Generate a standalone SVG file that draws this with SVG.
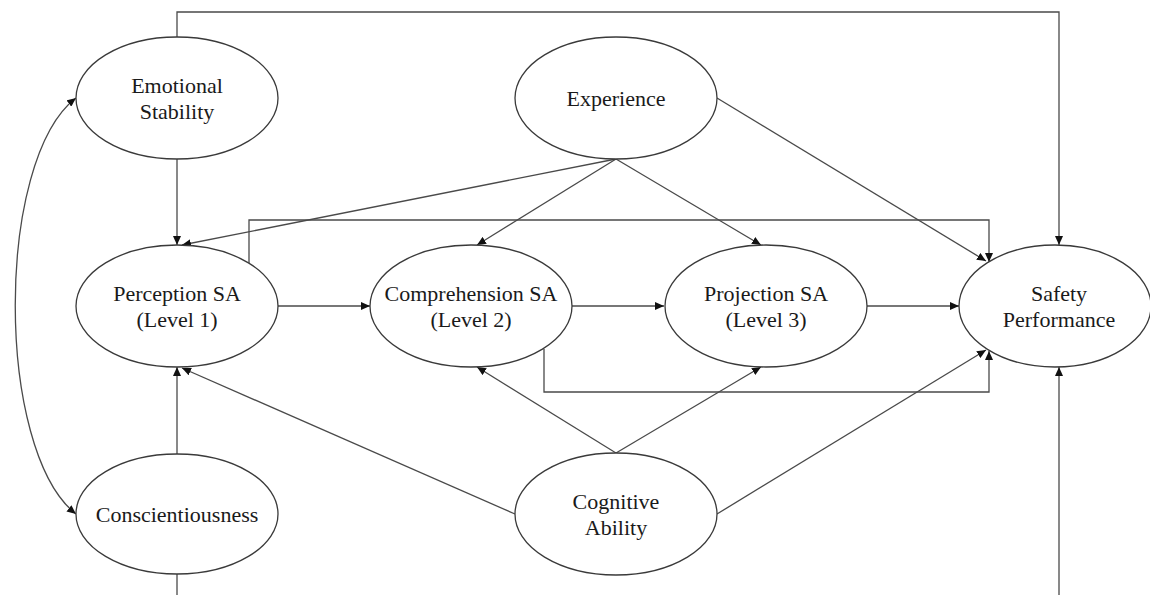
<svg xmlns="http://www.w3.org/2000/svg" width="1150" height="595" viewBox="0 0 1150 595">
<style>
.n ellipse{fill:#fff;stroke:#3a3a3a;stroke-width:1.3}
.n text{font-family:"Liberation Serif","Times New Roman",serif;font-size:22px;fill:#1a1a1a;text-anchor:middle}
.c path{fill:none;stroke:#4a4a4a;stroke-width:1.3}
</style>
<defs>
<marker id="ah" markerUnits="userSpaceOnUse" markerWidth="10" markerHeight="8" refX="9" refY="4" orient="auto">
<path d="M0,0 L9,4 L0,8 Z" fill="#111"/>
</marker>
<marker id="as" markerUnits="userSpaceOnUse" markerWidth="10" markerHeight="8" refX="1" refY="4" orient="auto">
<path d="M10,0 L1,4 L10,8 Z" fill="#111"/>
</marker>
</defs>
<rect width="1150" height="595" fill="#fff"/>
<g class="c" id="connectors">
<path d="M177,37 V12 H1059 V245" marker-end="url(#ah)"/>
<path d="M177,159 V245" marker-end="url(#ah)"/>
<path d="M616,159 L182,245" marker-end="url(#ah)"/>
<path d="M616,159 L477,245" marker-end="url(#ah)"/>
<path d="M616,159 L761,245" marker-end="url(#ah)"/>
<path d="M717,98 L986,261" marker-end="url(#ah)"/>
<path d="M249,263 V220 H989 V262" marker-end="url(#ah)"/>
<path d="M277,306 H370" marker-end="url(#ah)"/>
<path d="M572,306 H664" marker-end="url(#ah)"/>
<path d="M867,306 H959" marker-end="url(#ah)"/>
<path d="M544,349 V392 H989 V351" marker-end="url(#ah)"/>
<path d="M616,453 L477,367" marker-end="url(#ah)"/>
<path d="M616,453 L761,367" marker-end="url(#ah)"/>
<path d="M515,514 L182,368" marker-end="url(#ah)"/>
<path d="M717,514 L986,350" marker-end="url(#ah)"/>
<path d="M177,454 V367" marker-end="url(#ah)"/>
<path d="M177,574 V600"/>
<path d="M1059,600 V367" marker-end="url(#ah)"/>
<path d="M76,98 C-5,160 -5,450 76,514" marker-start="url(#as)" marker-end="url(#ah)"/>
</g>
<g class="n" id="emotional-stability">
<ellipse cx="177" cy="98" rx="101" ry="61"/>
<text x="177" y="93">Emotional</text>
<text x="177" y="119">Stability</text>
</g>
<g class="n" id="experience">
<ellipse cx="616" cy="98" rx="101" ry="61"/>
<text x="616" y="106">Experience</text>
</g>
<g class="n" id="perception-sa">
<ellipse cx="177" cy="306" rx="101" ry="61"/>
<text x="177" y="301">Perception SA</text>
<text x="177" y="327">(Level 1)</text>
</g>
<g class="n" id="comprehension-sa">
<ellipse cx="471" cy="306" rx="101" ry="61"/>
<text x="471" y="301">Comprehension SA</text>
<text x="471" y="327">(Level 2)</text>
</g>
<g class="n" id="projection-sa">
<ellipse cx="766" cy="306" rx="101" ry="61"/>
<text x="766" y="301">Projection SA</text>
<text x="766" y="327">(Level 3)</text>
</g>
<g class="n" id="safety-performance">
<ellipse cx="1055" cy="306" rx="96" ry="61"/>
<text x="1059" y="301">Safety</text>
<text x="1059" y="327">Performance</text>
</g>
<g class="n" id="conscientiousness">
<ellipse cx="177" cy="514" rx="101" ry="60"/>
<text x="177" y="522">Conscientiousness</text>
</g>
<g class="n" id="cognitive-ability">
<ellipse cx="616" cy="514" rx="101" ry="61"/>
<text x="616" y="509">Cognitive</text>
<text x="616" y="535">Ability</text>
</g>
</svg>
